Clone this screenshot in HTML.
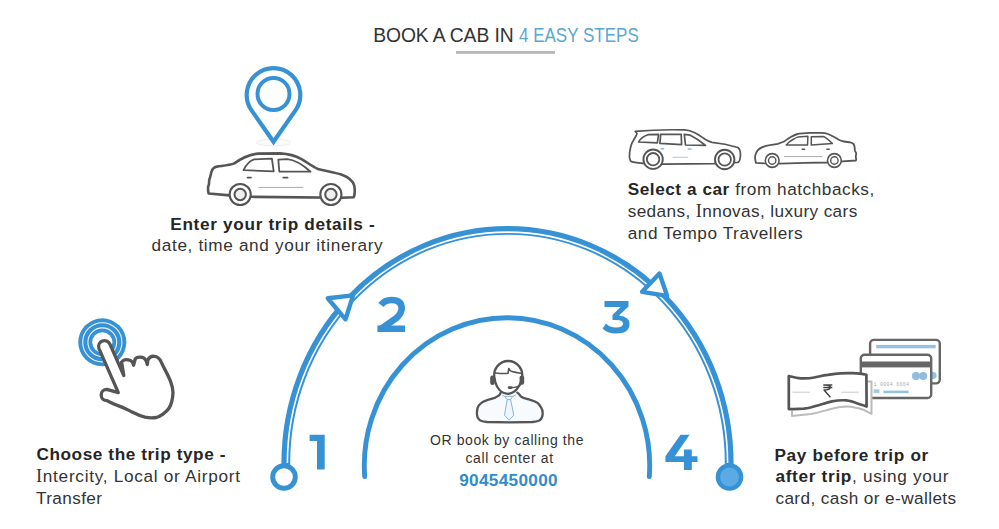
<!DOCTYPE html>
<html><head><meta charset="utf-8">
<style>
html,body{margin:0;padding:0;background:#fff;}
body{width:999px;height:529px;overflow:hidden;position:relative;font-family:"Liberation Sans",sans-serif;color:#333;}
svg{position:absolute;left:0;top:0;}
.t{position:absolute;white-space:nowrap;line-height:1;}
.b{font-weight:700;color:#262626;}
</style></head><body>
<svg width="999" height="529" viewBox="0 0 999 529">
  <!-- title underline -->
  <rect x="456" y="51" width="99" height="2.8" fill="#b7b7b7"/>

  <!-- outer arc -->
  <g fill="none">
    <path d="M285.8,466 L285.8,463.1 A221.7,232.7 0 0 1 729.2,463.1 L729.2,466" stroke="#3792d5" stroke-width="8.8"/>
    <path d="M287.4,463.1 A220.1,231.1 0 0 1 727.6,463.1" stroke="#fff" stroke-width="1.6"/>
  </g>
  <!-- arrows -->
  <path d="M327.75,298.26 L353.1,295.4 L345.5,319.3 Z" fill="#fff" stroke="#3792d5" stroke-width="4.4" stroke-linejoin="round"/>
  <path d="M659.5,273.5 L667.1,295.8 L642.1,291.8 Z" fill="#fff" stroke="#3792d5" stroke-width="4.4" stroke-linejoin="round"/>
  <!-- end rings -->
  <circle cx="284" cy="477" r="11.3" fill="#fff" stroke="#3792d5" stroke-width="4.95"/>
  <circle cx="729.5" cy="477" r="11.6" fill="#5aabe3" stroke="#3792d5" stroke-width="4.4"/>

  <!-- inner arc -->
  <path d="M364.7,476.5 A142.7,147.7 0 1 1 649.3,476.5" fill="none" stroke="#3792d5" stroke-width="4.9" stroke-linecap="round"/>


  <!-- ===== PIN ===== -->
  <ellipse cx="273.5" cy="142.5" rx="17.5" ry="3.3" fill="#fbfbfb" stroke="#eeeeee" stroke-width="1"/>
  <path d="M273.5,141.8 L251.4,110.1 A26.8,26.8 0 1 1 295.6,110.1 Z" fill="#fff" stroke="#3792d5" stroke-width="4.2" stroke-linejoin="miter"/>
  <circle cx="273.5" cy="94" r="16" fill="none" stroke="#3792d5" stroke-width="4"/>

  <!-- ===== CAR 1 (sedan facing right) ===== -->
  <g stroke="#555" fill="#fff" stroke-linejoin="round" stroke-linecap="round">
    <path stroke-width="2.6" d="M208.6,193.5 C208,190 207.8,188 208.2,186.5 C209.5,184 209,182 209.2,180 C210.5,177 211.2,172 211.7,171 C212.5,168.5 214,167.3 217,166.6 C222,165.8 229,165.5 234.4,163.4 C241,158.5 249,154.5 258,153.6 L280,153.4 C290,154 296,156 301,158.8 C306,161.5 312,166.5 318,169 C326,171 335,172.5 341.3,174.5 C348,177 353,181 354.2,185.5 C355,189 355,195 353.6,197.2 L342,197.8 L251,196.8 L230,195.4 Z"/>
    <path stroke-width="1.8" d="M243.6,170.2 C246,165 250,160.5 254.1,159.3 L271.9,158.6 L273.7,171.4 Z"/>
    <path stroke-width="1.8" d="M278.3,159.6 L287.3,159.2 C296,160 303,165 310.6,171.7 L279.3,171.5 Z"/>
    <path stroke-width="1.8" fill="none" d="M247.5,177.6 H251 M283.3,177.6 H287.6"/>
    <circle cx="240.2" cy="194.5" r="10.55" stroke-width="2.1"/>
    <circle cx="240.2" cy="194.5" r="5.7" stroke-width="2" fill="#efefef"/>
    <circle cx="330.9" cy="194.5" r="10.55" stroke-width="2.1"/>
    <circle cx="330.9" cy="194.5" r="5.7" stroke-width="2" fill="#efefef"/>
  </g>
  <path d="M258.4,187.4 H303.3" stroke="#aaa" stroke-width="1"/>

  <!-- ===== SUV ===== -->
  <g stroke="#555" fill="#fff" stroke-linejoin="round" stroke-linecap="round">
    <path stroke-width="1.7" d="M635.2,131.4 C650,130 670,129.5 684.6,129.9 C692,130.5 696,133 705.5,139.5 C708,141 710,142 712,142.3 C720,143 730,145 737.9,147.5 C740,149 740.6,153 740.4,156 C740.2,159 740,161.5 737.9,162.4 L713.6,163.7 L663.7,164.1 L642.9,163.3 C637,163 633,162.7 630.5,161 C629.3,158 629.3,154 629.7,152 C630.5,147 631.5,143 633.5,140.3 C635.5,137 637,134.5 636.9,133.5 C636.5,132.5 635.5,132 635.2,131.4 Z"/>
    <path stroke-width="1.7" d="M638.6,142 C640,139 643,136.5 648,134.7 L658.6,134.4 L657.3,142.9 Z"/>
    <path stroke-width="1.7" d="M660.7,134.4 L681.2,134.4 L681.6,144.6 L659.9,143.3 Z"/>
    <path stroke-width="1.7" d="M684.3,134.4 L690.2,135.2 C696,138 701,141.5 705.5,145.4 L685.5,145 Z"/>
    <circle cx="653.1" cy="159.2" r="9.7" stroke-width="1.9"/>
    <circle cx="653.1" cy="159.2" r="6.2" stroke-width="1.8"/>
    <circle cx="724.7" cy="159.5" r="9.7" stroke-width="1.9"/>
    <circle cx="724.7" cy="159.5" r="6.2" stroke-width="1.8"/>
  </g>
  <path d="M661,148.8 H663.6 M688.2,149.1 H691" stroke="#8fb8d0" stroke-width="1.5" stroke-linecap="round"/>
  <path d="M672.6,157.3 H688" stroke="#b5d3e3" stroke-width="1.2"/>

  <!-- ===== SEDAN 2 (facing left) ===== -->
  <g stroke="#555" fill="#fff" stroke-linejoin="round" stroke-linecap="round">
    <path stroke-width="1.8" d="M756,162.9 C755,160 755,156 755.6,154.2 C756.5,151.5 758.5,149 761.9,147.4 C765,146 768,145.3 769.8,145.1 C773,144.6 776,144.3 777.8,143.9 C781,142.8 783,142 784.1,141.5 C787,139.5 789,138 791.3,136.7 C793.5,135.5 795.5,134.5 797.6,134 C801,133 805,132.9 810,132.8 L820.9,132.9 C824,133 826,133.3 828,134 C830.5,135 832,135.8 833.6,136.7 C835.5,137.8 837,138.8 838.3,139.5 C840,140.5 842,141.2 843.9,141.5 C846,141.9 848,142 850.2,142.3 C851.5,142.6 852.7,143.2 853.4,143.9 C854.2,145 854.5,146 854.6,147 C854.8,149 854.8,150 855,151 C855.4,152 856.2,152.6 856.2,153.4 C856.2,154.5 855.8,155.5 855.8,156.6 C855.8,157.8 856.2,158.8 856.2,159.7 L855.8,160.5 L842.3,161.3 L827.2,162.5 L805,162.9 L779.8,163.7 L764.3,163.3 Z"/>
    <path stroke-width="1.5" d="M786.1,145.1 C788,142.5 790.5,140.8 792.9,139.5 C794.5,138.5 796,137.6 797.6,137.1 L807.9,136.3 L807.5,145.1 Z"/>
    <path stroke-width="1.5" d="M811.3,136.7 L824,136.6 C827,138.5 830,141 832.4,143.5 L811.3,145.1 Z"/>
    <path stroke-width="1.6" fill="none" d="M802.2,149.3 H804.6 M827,149.3 H829.2"/>
    <circle cx="772.2" cy="160.5" r="6.9" stroke-width="1.6"/>
    <circle cx="772.2" cy="160.5" r="3.7" stroke-width="1.4"/>
    <circle cx="834.4" cy="160.5" r="6.9" stroke-width="1.6"/>
    <circle cx="834.4" cy="160.5" r="3.7" stroke-width="1.4"/>
  </g>
  <path d="M784,156.6 H822.5" stroke="#aaa" stroke-width="1"/>

  <!-- ===== HAND ===== -->
  <circle cx="102.3" cy="342.3" r="24" fill="#3792d5"/>
  <circle cx="102.3" cy="342.3" r="19.6" fill="none" stroke="#e8f4fc" stroke-width="1.1"/>
  <circle cx="102.3" cy="342.3" r="14.4" fill="none" stroke="#e8f4fc" stroke-width="1.1"/>
  <circle cx="102.3" cy="342.3" r="10.1" fill="#fff"/>
  <g stroke="#555" stroke-width="3.3" stroke-linejoin="round" stroke-linecap="round">
    <path fill="#fff" d="M123.8,375.6 L109.9,344.1 A5.9,5.9 0 0 0 99.0,348.6 L118.3,392.7 L106.8,389.4 A5.6,5.6 0 0 0 106.8,400.6 C110,402 114,404.5 118,405.6 C124,407.5 128,410 132.6,412.3 C137,414.5 140,416 145,417.2 C150,418.2 153,418 156.4,417.5 C160,416.5 166,412.5 169,408.3 C171.5,404 172.8,400 173,392.4 C173,387 171.6,384.4 170,380 C167,373 164.5,369 163.7,367.2 L161,361.6 C160,359 157,356.5 154.4,356.3 C151.5,356 149,357.5 147.8,360.3 L147.3,364.6 L146.5,361.6 C145.5,359 143,357.2 139.9,357.2 C137,357.2 135.5,358.5 135.2,359 L133.6,365.2 L132.8,362.9 C131.5,360.5 129,359.6 126,359.6 C124,359.6 122.8,360.5 121.6,362 Z"/>
  </g>

  <!-- ===== HEADSET PERSON ===== -->
  <g stroke="#555" stroke-linejoin="round" stroke-linecap="round">
    <path fill="#f7fbfe" stroke-width="2.3" d="M500.7,392.6 C500,394.5 499.5,395.3 498.5,395.6 C497,396.6 496,397.3 494.7,397.9 C492,398.8 489.5,399.3 487.1,400.1 C484.5,401 482.5,402 481.1,403.1 C479,404.8 478,406 477.7,407.7 C477,410 476.9,411.5 476.9,413 C476.9,415 477.2,416.5 477.7,417.5 C478.5,419 479.2,419.8 480.3,420.5 C482.5,421.5 484.5,421.8 487.1,422 L509.8,422.4 L532.5,422 C535,421.8 537.5,421.3 539.3,420.5 C540.8,419.5 541.5,418.5 541.9,417.5 C542.5,416 542.7,414.5 542.7,413 C542.7,411 542.2,409.2 541.2,407.7 C540.2,405.8 539,404.3 537.8,403.1 C535.8,401.6 533.5,400.8 531,400.1 C528.5,399.4 526,398.6 523.4,397.9 C521.5,397 520.3,396 519.6,394.8 C518.8,393.8 518,393 517.4,392.6"/>
    <path fill="#fff" stroke-width="2.3" d="M494.53,378 A14,14 0 1 1 521.87,378 L521.2,381 C519.5,387 515,393.5 508,393.8 C501,393.5 496.8,388 495.3,382 Z"/>
    <path fill="none" stroke-width="1.6" d="M495.2,373 C500,373.5 505,373.8 508,373.3 C508.5,371 508.5,369.5 508.8,368.6 C509.5,370 510.5,371 511.4,371.2 C514,372 517,372.7 520.5,373.3"/>
    <rect x="490.2" y="375.6" width="4.6" height="9.4" rx="2.2" fill="#555" stroke="none"/>
    <rect x="519.6" y="375.4" width="4.6" height="9.4" rx="2.2" fill="#555" stroke="none"/>
    <path fill="none" stroke-width="1.4" d="M521,384 C519,386.5 516,387.6 511.5,387.6"/>
    <path fill="none" stroke-width="2.6" d="M509,387.6 H511.4"/>
  </g>
  <g stroke="#8fb3cf" stroke-width="1" fill="#eef5fb" stroke-linejoin="round">
    <path d="M504.5,396.3 L512.8,396.3 L510.6,399.6 L507.2,399.6 Z"/>
    <path d="M507.2,399.6 L504.5,415.2 L509,420.2 L513.8,415.2 L510.6,399.6 Z"/>
    <path fill="none" d="M502.2,394.8 L504.5,396.6 M515.9,394.8 L512.8,396.6"/>
  </g>

  <!-- ===== CARDS + NOTE ===== -->
  <g stroke-linejoin="round">
    <rect x="870.1" y="339.9" width="69.7" height="43.5" rx="3.8" fill="#fff" stroke="#666" stroke-width="2.4"/>
    <rect x="876.2" y="344.9" width="59.5" height="3.4" fill="#93c2e2"/>
    <circle cx="933.2" cy="375.5" r="3.4" fill="#93c2e2"/>
    <rect x="860.8" y="354.7" width="70.4" height="43.3" rx="3.8" fill="#fff" stroke="#666" stroke-width="2.4"/>
    <rect x="860" y="361.5" width="72" height="5.9" fill="#666"/>
    <circle cx="916" cy="376" r="4" fill="#8fbde0"/>
    <circle cx="923.2" cy="376" r="4" fill="#8fbde0"/>
    <rect x="873.5" y="389.3" width="6" height="3.9" fill="#a3cbe6"/>
    <rect x="883.5" y="390.6" width="25.1" height="2.6" fill="#93c2e2"/>
    <text x="873.5" y="386.3" font-family="Liberation Mono" font-size="5" fill="#aaa" letter-spacing="0.25">1 0004 6664</text>
  </g>
  <path d="M792,410.7 L792,415.9 C800,415 805,414.5 811.2,413.9 C820,412.5 826,410 832,408.7 C838,407.3 842,406.5 847.6,406.6 C854,407 859,408.5 863.2,409.7 L871.5,413.9 L871.5,381.6 L867.8,381.6" fill="#fff" stroke="#bbb" stroke-width="2" stroke-linejoin="round"/>
  <path d="M788.8,376 C793,377 797,378 800.8,378.3 C805,378.6 810,378.3 814.3,377.5 C819,376.6 823,375.5 827.8,374.9 C832,374.1 836,373.4 840.3,373.3 C845,373.1 849,373.1 852.8,373.2 C857,373.4 862,373.8 866.4,374.8 L866.6,406.6 C864,405.5 861.5,404.8 859,404 C855,402.5 850.5,400.8 846.5,400.4 C841,400 836.5,400.5 832,401.4 C827.5,402.4 823.5,403.8 819.5,405 C814,406.6 809,408 803.9,408.7 C798,409.3 793,409.2 788.8,409.1 Z" fill="#fff" stroke="#555" stroke-width="2.7" stroke-linejoin="round"/>
  <path d="M792.5,392.2 H810.1 M841.3,392.2 H859" stroke="#c8c8c8" stroke-width="1"/>
  <path d="M823.3,384.9 H832.3 M823.3,387.4 H832.3 M825.5,384.9 C829.5,384.9 830.5,386.5 830.3,387.6 C830,389.2 828.5,390 824,390 L830.4,397.2" fill="none" stroke="#444" stroke-width="1.5" stroke-linejoin="round"/>

  <!-- numbers -->
  <g fill="#3792d5">
    <path d="M309.6,434.7 H324.7 V469.6 H317 V441 H309.6 Z"/>
    <rect x="377.4" y="325.5" width="27.6" height="6.5"/>
    <path d="M381,305 Q384.5,300 391.5,300 Q401.7,300 401.7,308.5 Q401.7,313 396.5,318 L381,329" fill="none" stroke="#3792d5" stroke-width="6.6"/>
    <path d="M604.5,300.9 H628.5 V306.5 L619,315.5 Q629.5,316.5 629.5,324 Q629.5,333.5 616,333.5 Q607,333.5 602.6,328.5 L606,323.5 Q609.5,327.5 616,327.5 Q623,327.5 623,323.5 Q623,320 616.5,320 H612.5 V315 L620.5,307 H604.5 Z"/>
    <path d="M680.5,434.7 H689.6 L674.8,456.3 H683.9 V449.5 H691.8 V456.3 H697.5 V462 H691.8 V469.9 H683.9 V462 H665.4 V456.3 Z"/>
  </g>
</svg>

<div class="t" style="left:373.20px;top:25.61px;font-size:19.3px;letter-spacing:-0.083px;color:#333">BOOK A CAB IN</div>
<div class="t" style="left:519.40px;top:25.61px;font-size:19.3px;letter-spacing:0px;color:#5aa8cf;transform:scaleX(0.882);transform-origin:0 0">4 EASY STEPS</div>
<div class="t b" style="left:170.30px;top:215.50px;font-size:17.2px;letter-spacing:0.675px">Enter your trip details -</div>
<div class="t" style="left:151.60px;top:237.21px;font-size:17.2px;letter-spacing:0.643px">date, time and your itinerary</div>
<div class="t" style="left:627.70px;top:181.00px;font-size:17.2px;letter-spacing:0.550px"><span class="b">Select a car</span> from hatchbacks,</div>
<div class="t" style="left:627.70px;top:202.00px;font-size:17.2px;letter-spacing:0.385px">sedans, <span style="font-family:Liberation Serif;font-size:18.4px">I</span>nnovas, luxury cars</div>
<div class="t" style="left:627.70px;top:224.50px;font-size:17.2px;letter-spacing:0.579px">and Tempo Travellers</div>
<div class="t b" style="left:36.40px;top:446.00px;font-size:17.2px;letter-spacing:0.590px">Choose the trip type -</div>
<div class="t" style="left:36.00px;top:467.21px;font-size:17.2px;letter-spacing:0.715px"><span style="font-family:Liberation Serif;font-size:18.4px">I</span>ntercity, Local or Airport</div>
<div class="t" style="left:36.00px;top:490.21px;font-size:17.2px;letter-spacing:0.371px">Transfer</div>
<div class="t b" style="left:774.40px;top:446.50px;font-size:17.2px;letter-spacing:0.682px">Pay before trip or</div>
<div class="t" style="left:775.40px;top:468.31px;font-size:17.2px;letter-spacing:0.695px"><span class="b">after trip</span>, using your</div>
<div class="t" style="left:775.40px;top:490.11px;font-size:17.2px;letter-spacing:0.400px">card, cash or e-wallets</div>
<div class="t" style="left:430.00px;top:433.01px;font-size:14px;letter-spacing:0.600px">OR book by calling the</div>
<div class="t" style="left:465.40px;top:451.10px;font-size:14px;letter-spacing:0.646px">call center at</div>
<div class="t b" style="left:459.20px;top:472.00px;font-size:17.2px;letter-spacing:0.311px;color:#338cca">9045450000</div>

</body></html>
